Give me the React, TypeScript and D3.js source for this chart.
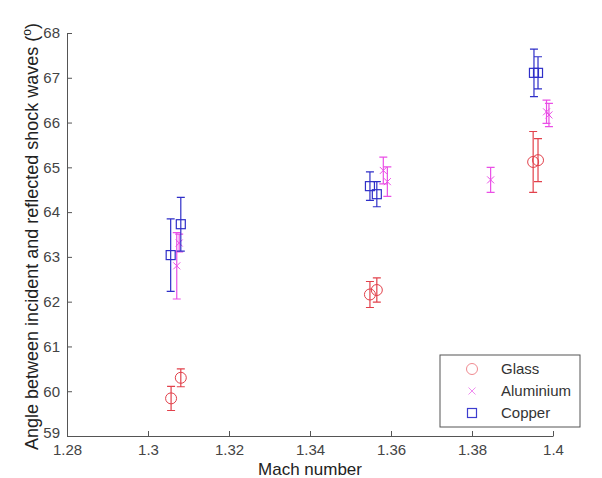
import React, { useEffect, useRef } from "react"
import * as d3 from "d3"

// Glass
const glassMach = [1.3057, 1.3081, 1.3548, 1.3565, 1.3951, 1.3963]
const glassAngle = [59.84, 60.3, 62.16, 62.26, 65.12, 65.16]
const glassErr = [0.27, 0.2, 0.29, 0.27, 0.68, 0.48]

// Aluminium
const aluMach = [1.3071, 1.3077, 1.3581, 1.3591, 1.3846, 1.3984, 1.399]
const aluAngle = [62.8, 63.31, 64.93, 64.68, 64.72, 66.24, 66.17]
const aluErr = [0.74, 0.2, 0.3, 0.33, 0.28, 0.26, 0.26]

// Copper
const copperMach = [1.3056, 1.3081, 1.3548, 1.3565, 1.3953, 1.3963]
const copperAngle = [63.04, 63.73, 64.58, 64.4, 67.11, 67.11]
const copperErr = [0.81, 0.6, 0.32, 0.28, 0.53, 0.36]

const xTicks = [1.28, 1.3, 1.32, 1.34, 1.36, 1.38, 1.4]
const yTicks = [59, 60, 61, 62, 63, 64, 65, 66, 67, 68]
const legendLabels = ["Glass", "Aluminium", "Copper"]

const series = [
  { name: "Glass", mach: glassMach, angle: glassAngle, err: glassErr, color: "#e2414b", legend: "#f08a90", marker: "circle" },
  { name: "Aluminium", mach: aluMach, angle: aluAngle, err: aluErr, color: "#ea4fe6", legend: "#f08cf0", marker: "cross" },
  { name: "Copper", mach: copperMach, angle: copperAngle, err: copperErr, color: "#2f2fc8", legend: "#3d3dcf", marker: "square" },
]

const FONT = "'Liberation Sans', Arial, sans-serif"

function drawMarker(g: any, kind: string, x: number, y: number, color: string) {
  if (kind === "circle") {
    g.append("circle").attr("cx", x).attr("cy", y).attr("r", 5.5)
      .attr("fill", "none").attr("stroke", color).attr("stroke-width", 1)
  } else if (kind === "square") {
    g.append("rect").attr("x", x - 4.5).attr("y", y - 4.5).attr("width", 9).attr("height", 9)
      .attr("fill", "none").attr("stroke", color).attr("stroke-width", 1.2)
  } else {
    const s = 3.5
    g.append("path").attr("d", `M${x - s},${y - s}L${x + s},${y + s}M${x - s},${y + s}L${x + s},${y - s}`)
      .attr("fill", "none").attr("stroke", color).attr("stroke-width", 1)
  }
}

export default function App() {
  const ref = useRef<SVGSVGElement>(null)

  useEffect(() => {
    document.body.style.margin = "0"
    const totalW = 602
    const totalH = 478
    const margin = { top: 33, left: 67, right: 49, bottom: 42 }
    const w = totalW - margin.left - margin.right
    const h = totalH - margin.top - margin.bottom

    const svg = d3.select(ref.current)
    svg.selectAll("*").remove()
    svg.attr("width", totalW).attr("height", totalH)
    svg.append("rect").attr("width", totalW).attr("height", totalH).attr("fill", "#fff")

    const xScale = d3.scaleLinear().domain([1.28, 1.4]).range([0, w])
    const yScale = d3.scaleLinear().domain([59, 68]).range([h, 0])

    const g = svg.append("g").attr("transform", `translate(${margin.left}, ${margin.top})`)

    // Axes
    const xAxis = d3.axisBottom(xScale).tickValues(xTicks).tickFormat(d3.format("")).tickSizeInner(-5).tickSizeOuter(0).tickPadding(8)
    const yAxis = d3.axisLeft(yScale).tickValues(yTicks).tickFormat(d3.format("d")).tickSizeInner(-5).tickSizeOuter(0).tickPadding(7)

    const xa = g.append("g").attr("transform", `translate(0, ${h})`).call(xAxis)
    const ya = g.append("g").call(yAxis)
    ;[xa, ya].forEach(a => {
      a.selectAll("path, line").attr("stroke", "#555").attr("stroke-width", 1)
      a.selectAll("text").attr("fill", "#444").attr("font-size", 15).attr("font-family", FONT)
    })
    ya.selectAll("text").filter((d: any) => d === 59).attr("dy", "0.1em")

    // Error bars and markers
    series.forEach(s => {
      const sg = g.append("g")
      s.mach.forEach((m, i) => {
        const x = xScale(m)
        const y0 = yScale(s.angle[i] - s.err[i])
        const y1 = yScale(s.angle[i] + s.err[i])
        sg.append("path")
          .attr("d", `M${x},${y0}V${y1}M${x - 4},${y0}H${x + 4}M${x - 4},${y1}H${x + 4}`)
          .attr("fill", "none").attr("stroke", s.color).attr("stroke-width", 1.2)
      })
      s.mach.forEach((m, i) => drawMarker(sg, s.marker, xScale(m), yScale(s.angle[i]), s.color))
    })

    // Axis titles
    svg.append("text")
      .attr("x", margin.left + w / 2).attr("y", 475)
      .attr("text-anchor", "middle").attr("font-size", 17).attr("font-family", FONT).attr("fill", "#222")
      .text("Mach number")

    const yt = svg.append("text")
      .attr("transform", `translate(38, ${margin.top + h / 2 + 2}) rotate(-90)`)
      .attr("text-anchor", "middle").attr("font-size", 18).attr("font-family", FONT).attr("fill", "#222")
    yt.append("tspan").text("Angle between incident and reflected shock waves (")
    yt.append("tspan").attr("font-size", 12).attr("dy", -7).text("o")
    yt.append("tspan").attr("dy", 7).text(")")

    // Legend
    const lg = svg.append("g").attr("transform", "translate(440, 355)")
    lg.append("rect").attr("width", 140).attr("height", 72)
      .attr("fill", "#fff").attr("stroke", "#555").attr("stroke-width", 1)
    legendLabels.forEach((label, i) => {
      const s = series[i]
      const y = 14 + i * 22
      drawMarker(lg, s.marker, 32, y, s.legend)
      lg.append("text").attr("x", 61).attr("y", y).attr("dy", "0.35em")
        .attr("font-size", 15).attr("font-family", FONT).attr("fill", "#333").text(label)
    })
  }, [])

  return <svg ref={ref} style={{ display: "block" }} />
}
